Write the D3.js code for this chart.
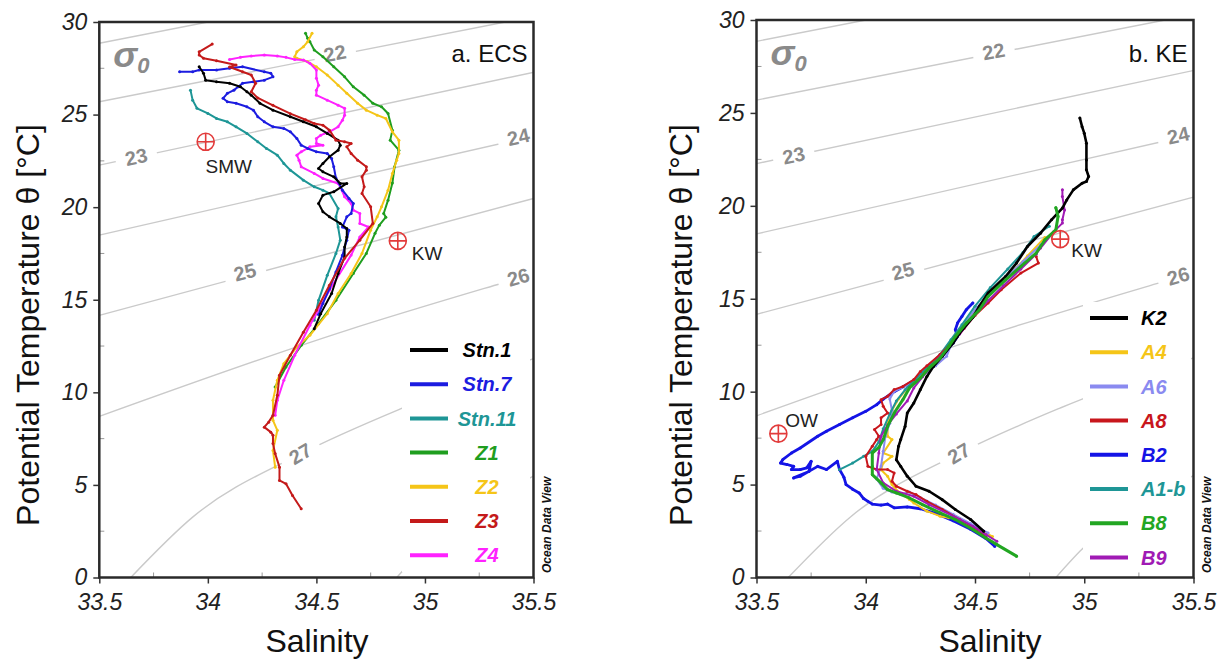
<!DOCTYPE html>
<html>
<head>
<meta charset="utf-8">
<script src="https://cdn.jsdelivr.net/npm/d3@7"></script>
<style>
  body { margin: 0; background: #fff; }
  svg { display: block; }
  text { font-family: "Liberation Sans", Arial, sans-serif; }
</style>
</head>
<body>
<svg id="chart" width="1227" height="664"></svg>
<script>
// ---- axes ----
const salDomain = [33.5, 35.5];
const tempDomain = [0, 30];
const salTicks = [33.5, 34, 34.5, 35, 35.5];
const tempTicks = [0, 5, 10, 15, 20, 25, 30];
const salMinor = [33.75, 34.25, 34.75, 35.25];
const tempMinor = [2.5, 7.5, 12.5, 17.5, 22.5, 27.5];

// ---- sigma-0 isopycnals, [salinity, theta] ----
const sigmaLevels = [21, 22, 23, 24, 25, 26, 27, 28];
const iso21 = [[33.5, 28.85], [34.0, 30.0]];
const iso22 = [[33.5, 25.69], [35.37, 30.0]];
const iso23 = [[33.5, 22.27], [35.51, 27.31]];
const iso24 = [[33.5, 18.49], [35.5, 23.84]];
const iso25 = [[33.5, 14.16], [35.5, 20.47]];
const iso26 = [[33.5, 8.70], [34.64, 13.35], [35.35, 15.88], [35.5, 16.4]];
const iso27 = [[33.645, 0], [33.93, 3.26], [34.43, 6.69], [34.89, 9.12], [35.5, 11.82]];
const iso28 = [[34.87, 0], [34.98, 1.41], [35.5, 5.48]];
const isopycnals = [iso21, iso22, iso23, iso24, iso25, iso26, iso27, iso28];
// label: sigma, salinity, theta
const isoLabels = [[22, 34.585, 28.31], [23, 33.67, 22.72], [24, 35.43, 23.8],
                   [25, 34.17, 16.5], [26, 35.43, 16.23], [27, 34.426, 6.69]];

// ---- a. ECS profiles ----
const stn1 = [[33.96,27.58],[33.98,27.23],[33.99,26.86],[34.04,26.77],[34.10,26.69],[34.15,26.50],[34.18,26.23],[34.20,26.05],
  [34.24,25.61],[34.30,25.24],[34.38,24.88],[34.44,24.61],[34.50,24.34],[34.55,23.98],[34.60,23.62],[34.61,23.35],[34.60,23.08],
  [34.56,22.72],[34.53,22.36],[34.51,22.09],[34.53,21.91],[34.58,21.64],[34.61,21.28],[34.64,21.28],[34.58,20.83],[34.53,20.65],
  [34.51,20.20],[34.53,19.75],[34.56,19.48],[34.61,19.12],[34.64,18.85],[34.64,18.39],[34.63,17.85],[34.63,17.31],[34.60,16.42],
  [34.57,15.34],[34.52,14.25],[34.49,13.44]];
const stn7 = [[33.87,27.31],[33.93,27.31],[33.96,27.41],[34.04,27.41],[34.10,27.50],[34.16,27.58],[34.26,27.31],[34.29,27.23],
  [34.30,27.04],[34.26,26.86],[34.21,26.77],[34.16,26.69],[34.14,26.50],[34.12,26.32],[34.09,26.15],[34.07,25.88],[34.09,25.69],
  [34.13,25.61],[34.18,25.42],[34.21,25.24],[34.23,24.88],[34.26,24.61],[34.30,24.34],[34.35,24.25],[34.38,24.07],[34.41,23.71],
  [34.43,23.35],[34.46,23.17],[34.50,22.99],[34.55,22.90],[34.57,22.63],[34.58,22.18],[34.59,21.57],[34.62,20.92],[34.65,20.47],
  [34.67,20.20],[34.66,19.66],[34.64,19.48],[34.62,18.93],[34.65,18.76],[34.64,18.22],[34.62,17.40],[34.59,16.50],[34.56,15.60],
  [34.53,14.80],[34.51,14.20]];
const stn11 = [[33.92,26.32],[33.93,25.78],[33.95,25.34],[34.00,25.06],[34.04,24.79],[34.09,24.61],[34.13,24.34],[34.18,23.98],
  [34.23,23.53],[34.27,23.17],[34.32,22.81],[34.35,22.36],[34.38,22.00],[34.44,21.46],[34.49,21.10],[34.53,20.92],[34.56,20.74],
  [34.60,19.93],[34.59,19.48],[34.60,18.93],[34.61,18.22],[34.59,17.50],[34.55,16.32],[34.51,14.97],[34.49,13.89]];
const z1 = [[34.45,29.39],[34.46,29.12],[34.47,28.94],[34.49,28.49],[34.53,28.12],[34.58,27.58],[34.63,27.04],[34.67,26.50],
  [34.72,26.05],[34.76,25.61],[34.80,25.42],[34.83,25.06],[34.85,24.16],[34.84,23.62],[34.88,23.08],[34.86,22.18],[34.85,21.30],
  [34.83,20.38],[34.81,19.66],[34.82,19.46],[34.79,19.03],[34.77,18.59],[34.73,17.50],[34.67,16.42],[34.59,14.97],[34.51,13.71],
  [34.43,12.54],[34.36,11.37],[34.31,10.29]];
const z2 = [[34.48,29.39],[34.46,28.94],[34.44,28.66],[34.41,28.39],[34.40,28.12],[34.41,28.04],[34.46,27.85],[34.50,27.58],
  [34.55,27.14],[34.60,26.59],[34.64,26.15],[34.69,25.61],[34.73,25.24],[34.78,24.97],[34.82,24.79],[34.85,24.07],[34.88,23.62],
  [34.88,22.90],[34.87,22.54],[34.85,21.82],[34.83,20.92],[34.80,20.02],[34.78,19.48],[34.75,18.76],[34.71,17.50],[34.66,16.42],
  [34.60,15.34],[34.55,14.25],[34.47,13.08],[34.41,12.45],[34.35,11.55],[34.32,10.65],[34.30,9.57],[34.30,8.49],[34.32,7.95],
  [34.30,6.86],[34.31,5.96]];
const z3 = [[34.02,28.81],[33.96,28.39],[33.96,28.22],[33.98,28.04],[34.04,27.91],[34.13,27.68],[34.10,27.57],[34.16,27.31],
  [34.20,27.14],[34.22,26.69],[34.20,26.23],[34.23,25.90],[34.30,25.50],[34.38,25.05],[34.45,24.72],[34.49,24.52],[34.53,24.43],
  [34.56,24.16],[34.59,23.62],[34.63,23.53],[34.66,23.44],[34.64,23.26],[34.66,22.90],[34.69,22.54],[34.73,22.18],[34.73,22.00],
  [34.71,21.64],[34.72,21.10],[34.71,20.74],[34.75,20.02],[34.76,19.12],[34.70,18.22],[34.63,17.24],[34.56,15.78],[34.50,14.43],
  [34.44,13.24],[34.38,12.00],[34.33,10.92],[34.32,9.84],[34.30,8.76],[34.28,8.39],[34.26,8.12],[34.29,7.85],[34.30,7.68],
  [34.30,7.23],[34.31,6.69],[34.33,5.96],[34.33,5.24],[34.36,5.06],[34.39,4.43],[34.43,3.71]];
const z4 = [[34.10,27.98],[34.15,28.09],[34.20,28.16],[34.26,28.22],[34.32,28.16],[34.36,28.09],[34.40,27.98],[34.44,27.95],
  [34.47,27.77],[34.50,27.41],[34.50,26.96],[34.51,26.59],[34.50,26.32],[34.50,26.05],[34.55,25.78],[34.60,25.51],[34.63,25.34],
  [34.63,24.97],[34.62,24.70],[34.60,24.34],[34.56,24.07],[34.52,23.89],[34.50,23.71],[34.50,23.44],[34.53,23.35],[34.47,23.26],
  [34.43,22.99],[34.41,22.81],[34.42,22.54],[34.43,22.18],[34.49,21.82],[34.53,21.55],[34.60,21.28],[34.61,21.10],[34.63,20.56],
  [34.66,20.20],[34.67,19.84],[34.70,19.66],[34.70,19.12],[34.74,18.93],[34.70,18.39],[34.66,17.41],[34.56,15.51],[34.47,13.62],
  [34.40,12.00],[34.35,10.65],[34.32,9.57],[34.31,8.76]];

// ---- b. KE profiles ----
const k2 = [[34.98,24.72],[34.99,24.26],[35.00,23.91],[35.01,23.37],[35.01,22.47],[35.01,21.94],[35.02,21.58],[35.01,21.31],
  [34.99,21.22],[34.95,20.86],[34.92,20.32],[34.90,19.88],[34.85,19.25],[34.80,18.53],[34.74,17.81],[34.69,16.92],[34.64,16.20],
  [34.56,15.31],[34.52,14.60],[34.49,14.00],[34.43,13.16],[34.40,12.62],[34.35,11.90],[34.31,11.36],[34.28,10.82],[34.25,10.11],
  [34.22,9.39],[34.19,8.85],[34.18,8.13],[34.16,7.42],[34.15,7.06],[34.14,6.34],[34.16,5.98],[34.19,5.45],[34.23,4.91],
  [34.29,4.64],[34.35,4.19],[34.41,3.66],[34.48,3.12],[34.54,2.49]];
const a4 = [[34.82,18.30],[34.74,17.30],[34.66,16.30],[34.58,15.40],[34.51,14.50],[34.45,13.60],[34.40,12.80],[34.35,12.10],
  [34.29,11.40],[34.24,10.80],[34.19,10.20],[34.15,9.60],[34.12,9.00],[34.10,8.30],[34.10,7.60],[34.12,7.42],[34.08,6.70],
  [34.12,6.52],[34.08,6.16],[34.07,5.80],[34.10,5.45],[34.12,5.00],[34.15,4.60],[34.20,4.20],[34.22,4.01],[34.28,3.57],
  [34.34,3.30],[34.38,3.21],[34.40,3.30],[34.45,3.00],[34.52,2.60],[34.58,2.20]];
const a6 = [[34.80,17.90],[34.72,17.00],[34.64,16.10],[34.56,15.20],[34.50,14.40],[34.44,13.50],[34.40,12.80],[34.37,11.90],
  [34.32,11.40],[34.26,10.90],[34.20,10.40],[34.13,10.02],[34.11,9.60],[34.12,9.00],[34.11,8.30],[34.09,7.60],[34.08,6.80],
  [34.07,6.00],[34.05,5.30],[34.08,4.80],[34.12,4.60],[34.16,4.46],[34.20,4.60],[34.25,4.30],[34.32,3.90],[34.40,3.40],
  [34.48,2.90],[34.56,2.40]];
const a8 = [[34.78,17.27],[34.79,16.92],[34.71,16.38],[34.62,15.48],[34.56,14.77],[34.50,14.10],[34.45,13.40],[34.40,12.70],
  [34.34,12.00],[34.28,11.40],[34.25,11.09],[34.22,10.65],[34.17,10.28],[34.13,10.11],[34.10,9.75],[34.07,9.57],[34.08,9.21],
  [34.10,8.85],[34.07,8.59],[34.07,8.23],[34.04,7.96],[34.06,7.60],[34.05,7.42],[34.03,7.06],[34.00,6.52],[34.01,5.98],
  [34.05,5.81],[34.10,5.81],[34.13,5.63],[34.12,5.18],[34.14,4.91],[34.19,4.64],[34.23,4.46],[34.28,4.10],[34.35,3.66],
  [34.43,3.12],[34.51,2.58],[34.55,2.20]];
const b2 = [[34.49,14.77],[34.46,14.41],[34.44,14.05],[34.42,13.69],[34.41,13.33],[34.42,12.97],[34.40,12.62],[34.35,11.90],
  [34.31,11.40],[34.26,10.90],[34.20,10.45],[34.13,10.00],[34.08,9.60],[34.05,9.30],[34.00,8.94],[33.94,8.59],[33.88,8.23],
  [33.82,7.87],[33.78,7.60],[33.70,6.97],[33.66,6.70],[33.62,6.34],[33.61,6.16],[33.64,6.08],[33.67,5.98],[33.66,5.81],
  [33.70,5.81],[33.73,5.90],[33.75,6.25],[33.74,5.70],[33.67,5.36],[33.70,5.45],[33.78,5.98],[33.82,5.81],[33.87,6.25],
  [33.88,5.81],[33.90,5.40],[33.91,5.00],[33.94,4.75],[33.97,4.55],[33.99,4.25],[34.01,4.10],[34.03,3.95],[34.07,3.90],
  [34.10,3.95],[34.13,3.75],[34.19,3.80],[34.25,3.70],[34.32,3.45],[34.40,3.05],[34.48,2.60],[34.55,2.10],[34.59,1.68]];
const a1b = [[34.84,18.90],[34.77,18.35],[34.72,17.50],[34.65,16.60],[34.57,15.60],[34.50,14.60],[34.44,13.60],[34.39,12.80],
  [34.34,12.00],[34.28,11.30],[34.23,10.70],[34.18,10.10],[34.14,9.50],[34.11,8.80],[34.08,8.00],[34.06,7.30],[34.03,6.79],
  [33.99,6.52],[33.94,6.16],[33.88,5.81]];
const b8 = [[34.87,19.90],[34.88,19.43],[34.87,18.71],[34.82,18.17],[34.78,17.46],[34.71,16.74],[34.64,16.02],[34.56,15.12],
  [34.52,14.41],[34.46,13.69],[34.41,12.97],[34.38,12.44],[34.34,11.81],[34.29,11.27],[34.25,10.74],[34.20,10.20],[34.17,9.57],
  [34.13,8.85],[34.10,8.13],[34.08,7.42],[34.06,7.00],[34.03,6.70],[34.03,5.98],[34.03,5.54],[34.07,5.09],[34.10,4.73],
  [34.14,4.55],[34.20,4.28],[34.26,3.92],[34.34,3.48],[34.41,3.12],[34.49,2.58],[34.55,2.13],[34.60,1.77],[34.69,1.15]];
const b9 = [[34.90,20.86],[34.90,20.50],[34.91,19.78],[34.90,19.25],[34.90,19.07],[34.86,18.60],[34.80,17.73],[34.78,17.40],
  [34.71,16.60],[34.63,15.70],[34.56,14.90],[34.49,14.00],[34.43,13.10],[34.37,12.30],[34.31,11.50],[34.26,10.80],[34.22,10.20],
  [34.19,9.50],[34.14,8.80],[34.10,8.20],[34.07,7.60],[34.06,6.70],[34.05,5.81],[34.08,5.09],[34.14,4.64],[34.22,4.37],
  [34.29,3.92],[34.40,3.30],[34.49,2.76],[34.55,2.31],[34.60,1.95]];

// ---- water masses ----
const ecsWaters = [["SMW", 33.99, 23.53], ["KW", 34.875, 18.18]];
const keWaters = [["KW", 34.89, 18.21], ["OW", 33.60, 7.74]];

const ecsSeries = [
  { name: "Z1", color: "#1f9e1f", data: z1 },
  { name: "Z2", color: "#f5c518", data: z2 },
  { name: "Stn.11", color: "#1e9696", data: stn11 },
  { name: "Z4", color: "#ff22ff", data: z4 },
  { name: "Stn.7", color: "#1c1ce0", data: stn7 },
  { name: "Stn.1", color: "#000000", data: stn1 },
  { name: "Z3", color: "#c41a1a", data: z3 }
];
const ecsLegend = ["Stn.1", "Stn.7", "Stn.11", "Z1", "Z2", "Z3", "Z4"];

const keSeries = [
  { name: "B2", color: "#1414e6", data: b2, w: 2.8 },
  { name: "A4", color: "#f5c518", data: a4 },
  { name: "A6", color: "#8a8af0", data: a6 },
  { name: "A1-b", color: "#1e9696", data: a1b },
  { name: "A8", color: "#c8161c", data: a8 },
  { name: "B9", color: "#a01ab4", data: b9 },
  { name: "K2", color: "#000000", data: k2, w: 2.6 },
  { name: "B8", color: "#22a622", data: b8, w: 3 }
];
const keLegend = ["K2", "A4", "A6", "A8", "B2", "A1-b", "B8", "B9"];

const panels = [
  { id: "a", left: 99.3, right: 533.5, top: 22, bottom: 577.5, title: "a. ECS",
    series: ecsSeries, legendOrder: ecsLegend, waters: ecsWaters,
    legend: { x1: 410, x2: 448, tx: 487, anchor: "middle", y0: 350, dy: 34.2, bg: [402, 333, 128, 239] },
    waterOffsets: { SMW: [23, 31, "middle"], KW: [14, 19, "start"] },
    xTitle: 317, yTitle: 28 },
  { id: "b", left: 756.5, right: 1193.5, top: 20, bottom: 577.5, title: "b. KE",
    series: keSeries, legendOrder: keLegend, waters: keWaters,
    legend: { x1: 1090, x2: 1128, tx: 1141, anchor: "start", y0: 318, dy: 34.2, bg: [1083, 302, 108, 272] },
    waterOffsets: { KW: [11, 18, "start"], OW: [7, -7, "start"] },
    xTitle: 990, yTitle: 681 }
];

const svg = d3.select("#chart");
const defs = svg.append("defs");

function drawPanel(p) {
  const x = d3.scaleLinear().domain(salDomain).range([p.left, p.right]);
  const y = d3.scaleLinear().domain(tempDomain).range([p.bottom, p.top]);
  const g = svg.append("g");

  defs.append("clipPath").attr("id", "clip-" + p.id)
    .append("rect").attr("x", p.left).attr("y", p.top)
    .attr("width", p.right - p.left).attr("height", p.bottom - p.top);
  const plot = g.append("g").attr("clip-path", `url(#clip-${p.id})`);

  // isopycnals
  const isoLine = d3.line().x(d => x(d[0])).y(d => y(d[1])).curve(d3.curveMonotoneX);
  plot.selectAll("path.iso").data(isopycnals).join("path")
    .attr("class", "iso").attr("d", isoLine)
    .attr("fill", "none").attr("stroke", "#cacaca").attr("stroke-width", 1.4);

  isoLabels.forEach(([sig, S, T]) => {
    const pts = isopycnals[sigmaLevels.indexOf(sig)];
    let i = 0;
    while (i < pts.length - 2 && pts[i + 1][0] < S) i++;
    const ang = Math.atan2(y(pts[i + 1][1]) - y(pts[i][1]), x(pts[i + 1][0]) - x(pts[i][0])) * 180 / Math.PI;
    const lg = plot.append("g").attr("transform", `translate(${x(S)},${y(T)}) rotate(${ang})`);
    lg.append("rect").attr("x", -21).attr("y", -9).attr("width", 42).attr("height", 18).attr("fill", "#fff");
    lg.append("text").attr("text-anchor", "middle").attr("dy", "0.36em")
      .attr("font-size", 20).attr("font-weight", "bold").attr("fill", "#8a8a8a").text(sig);
  });

  // profiles
  const line = d3.line().x(d => x(d[0])).y(d => y(d[1]));
  p.series.forEach(s => {
    plot.append("path").datum(s.data).attr("d", line)
      .attr("fill", "none").attr("stroke", s.color).attr("stroke-width", s.w || 2)
      .attr("stroke-linejoin", "round").attr("stroke-linecap", "round");
    plot.append("g").selectAll("circle").data(s.data).join("circle")
      .attr("cx", d => x(d[0])).attr("cy", d => y(d[1])).attr("r", 1.5).attr("fill", s.color);
  });

  // water mass markers
  p.waters.forEach(([name, S, T]) => {
    const cx = x(S), cy = y(T), r = 8.5;
    g.append("circle").attr("cx", cx).attr("cy", cy).attr("r", r)
      .attr("fill", "none").attr("stroke", "#e23b3b").attr("stroke-width", 1.6);
    g.append("path").attr("d", `M${cx - r},${cy}H${cx + r}M${cx},${cy - r}V${cy + r}`)
      .attr("stroke", "#e23b3b").attr("stroke-width", 1.6);
    const o = p.waterOffsets[name];
    g.append("text").attr("x", cx + o[0]).attr("y", cy + o[1]).attr("text-anchor", o[2])
      .attr("font-size", 19).attr("fill", "#222").text(name);
  });

  // sigma-0 tag and panel title
  const sig = g.append("text").attr("x", p.left + 14).attr("y", p.top + 45)
    .attr("font-size", 36).attr("font-weight", "bold").attr("font-style", "italic").attr("fill", "#8a8a8a");
  sig.append("tspan").text("σ");
  sig.append("tspan").attr("font-size", 22).attr("dy", 6).text("0");
  g.append("text").attr("x", p.right - 6).attr("y", 62).attr("text-anchor", "end")
    .attr("font-size", 24).attr("fill", "#111").text(p.title);

  // legend
  const L = p.legend;
  g.append("rect").attr("x", L.bg[0]).attr("y", L.bg[1]).attr("width", L.bg[2]).attr("height", L.bg[3]).attr("fill", "#fff");
  p.legendOrder.forEach((name, k) => {
    const s = p.series.find(d => d.name === name);
    const ly = L.y0 + k * L.dy;
    g.append("line").attr("x1", L.x1).attr("x2", L.x2).attr("y1", ly).attr("y2", ly)
      .attr("stroke", s.color).attr("stroke-width", 4);
    g.append("text").attr("x", L.tx).attr("y", ly).attr("dy", "0.36em").attr("text-anchor", L.anchor)
      .attr("font-size", 20).attr("font-weight", "bold").attr("font-style", "italic")
      .attr("fill", s.color).text(name);
  });

  // minor ticks (inside)
  g.append("g").selectAll("line").data(salMinor).join("line")
    .attr("x1", d => x(d)).attr("x2", d => x(d)).attr("y1", p.bottom).attr("y2", p.bottom - 5)
    .attr("stroke", "#999");
  g.append("g").selectAll("line").data(tempMinor).join("line")
    .attr("x1", p.left).attr("x2", p.left + 5).attr("y1", d => y(d)).attr("y2", d => y(d))
    .attr("stroke", "#999");

  // axes
  const xa = g.append("g").attr("transform", `translate(0,${p.bottom})`)
    .call(d3.axisBottom(x).tickValues(salTicks).tickFormat(d3.format("")).tickSize(6).tickPadding(10));
  const ya = g.append("g").attr("transform", `translate(${p.left},0)`)
    .call(d3.axisLeft(y).tickValues(tempTicks).tickSize(6).tickPadding(6));
  [xa, ya].forEach(a => {
    a.select(".domain").remove();
    a.selectAll(".tick line").attr("stroke", "#333").attr("stroke-width", 1.5);
    a.selectAll(".tick text").attr("font-size", 23).attr("font-style", "italic")
      .attr("fill", "#222").attr("font-family", "Liberation Sans, Arial, sans-serif");
  });

  // frame
  g.append("rect").attr("x", p.left).attr("y", p.top)
    .attr("width", p.right - p.left).attr("height", p.bottom - p.top)
    .attr("fill", "none").attr("stroke", "#2a2a2a").attr("stroke-width", 2.5);

  // titles
  g.append("text").attr("x", p.xTitle).attr("y", 652).attr("text-anchor", "middle")
    .attr("font-size", 32).attr("fill", "#111").text("Salinity");
  g.append("text").attr("transform", `translate(${p.yTitle},325) rotate(-90)`)
    .attr("text-anchor", "middle").attr("dy", "0.35em")
    .attr("font-size", 32).attr("fill", "#111").text("Potential Temperature θ [°C]");
  g.append("text").attr("transform", `translate(${p.right + 13},573) rotate(-90)`)
    .attr("dy", "0.35em").attr("font-size", 12).attr("font-weight", "bold").attr("font-style", "italic")
    .attr("fill", "#111").text("Ocean Data View");
}

panels.forEach(drawPanel);
</script>
</body>
</html>
